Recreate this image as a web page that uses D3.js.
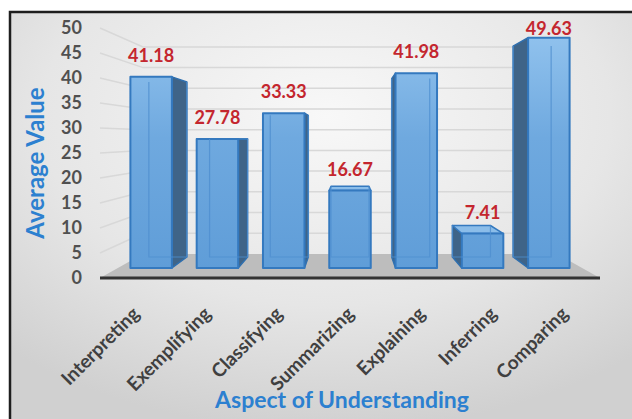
<!DOCTYPE html>
<html>
<head>
<meta charset="utf-8">
<script src="https://cdn.jsdelivr.net/npm/d3@7"></script>
<style>
  html, body { margin: 0; padding: 0; background: #fff; }
  svg { display: block; }
  text { font-family: Lato, "Open Sans", sans-serif; font-weight: bold; }
</style>
</head>
<body>
<svg id="chart" width="632" height="419"></svg>
<script>
// chart data
const categories = ["Interpreting", "Exemplifying", "Classifying", "Summarizing", "Explaining", "Inferring", "Comparing"];
const values = [41.18, 27.78, 33.33, 16.67, 41.98, 7.41, 49.63];
const yTicks = [0, 5, 10, 15, 20, 25, 30, 35, 40, 45, 50];
const yTitle = "Average Value";
const xTitle = "Aspect of Understanding";

const svg = d3.select("#chart");
const W = 632, H = 419;

// simple perspective: vanishing x, horizon y, eye height (in value units)
const xc = 350, yh = 138, ve = 28, sRef = 4.64;
const sFloorFront = 5, sBarFront = 4.64, sBarBack = 4.25, sWall = 4.14;

// category scale lives in the bar-front plane
const x = d3.scaleBand()
    .domain(categories)
    .range([118, 582])
    .paddingInner(0.374)
    .paddingOuter(0.187);

// value scale for any depth plane
function yAt(s) {
    return d3.scaleLinear().domain([0, 50]).range([yh + s * ve, yh - s * (50 - ve)]);
}
function proj(X, v, s) {
    return [xc + (X - xc) * s / sRef, yAt(s)(v)];
}
const line = d3.line();

// background + frame
const defs = svg.append("defs");
const bg = defs.append("radialGradient").attr("id", "bg")
    .attr("cx", 0.5).attr("cy", 0.25).attr("r", 0.75);
bg.append("stop").attr("offset", "0%").attr("stop-color", "#f8f8f8");
bg.append("stop").attr("offset", "60%").attr("stop-color", "#e6e6e6");
bg.append("stop").attr("offset", "100%").attr("stop-color", "#d0d0d0");

const front = defs.append("linearGradient").attr("id", "front")
    .attr("gradientUnits", "userSpaceOnUse")
    .attr("x1", 0).attr("y1", 30).attr("x2", 0).attr("y2", 270);
front.append("stop").attr("offset", "0%").attr("stop-color", "#92c3ee");
front.append("stop").attr("offset", "45%").attr("stop-color", "#6fa9df");
front.append("stop").attr("offset", "100%").attr("stop-color", "#5f9dd8");

svg.append("rect").attr("x", 10).attr("y", 12).attr("width", W).attr("height", H)
    .attr("fill", "url(#bg)").attr("stroke", "#1e1e1e").attr("stroke-width", 2.5);

// gridlines: left wall then back wall
const grid = svg.append("g").attr("fill", "none").attr("stroke", "#d8d8d8").attr("stroke-width", 1.5);
yTicks.filter(v => v > 0).forEach(v => {
    grid.append("path").attr("d", line([
        proj(118, v, sFloorFront),
        proj(118, v, sWall),
        proj(582, v, sWall)
    ]));
});

// floor
svg.append("path")
    .attr("d", line([proj(118, 0, sFloorFront), proj(582, 0, sFloorFront),
                     proj(582, 0, sWall), proj(118, 0, sWall)]) + "Z")
    .attr("fill", "#bdbdbd");
svg.append("path")
    .attr("d", line([proj(118, 0, sFloorFront), proj(582, 0, sFloorFront)]))
    .attr("stroke", "#333").attr("stroke-width", 3);

// bars
const bars = svg.append("g");
categories.forEach((c, i) => {
    const v = values[i];
    const X0 = x(c), X1 = x(c) + x.bandwidth();
    const mid = (X0 + X1) / 2;
    const g = bars.append("g");

    // side face
    if (Math.abs(mid - xc) > 2) {
        const Xs = mid < xc ? X1 : X0;
        g.append("path")
            .attr("d", line([proj(Xs, 0, sBarFront), proj(Xs, v, sBarFront),
                             proj(Xs, v, sBarBack), proj(Xs, 0, sBarBack)]) + "Z")
            .attr("fill", "#3f6488").attr("stroke", "#2f6fae").attr("stroke-width", 1.5)
            .attr("stroke-linejoin", "round");
    }
    // top face (only when below eye height)
    if (v < ve) {
        g.append("path")
            .attr("d", line([proj(X0, v, sBarFront), proj(X1, v, sBarFront),
                             proj(X1, v, sBarBack), proj(X0, v, sBarBack)]) + "Z")
            .attr("fill", "#8bbde9").attr("stroke", "#3479bf").attr("stroke-width", 1.5)
            .attr("stroke-linejoin", "round");
    }
    // front face
    g.append("path")
        .attr("d", line([proj(X0, 0, sBarFront), proj(X1, 0, sBarFront),
                         proj(X1, v, sBarFront), proj(X0, v, sBarFront)]) + "Z")
        .attr("fill", "url(#front)").attr("stroke", "#3479bf").attr("stroke-width", 2)
        .attr("stroke-linejoin", "round");
    // hidden back edges seen through the glass
    g.append("path")
        .attr("d", line([proj(X0, v, sBarBack), proj(X0, 0, sBarBack), proj(X1, 0, sBarBack), proj(X1, v, sBarBack)]))
        .attr("fill", "none").attr("stroke", "#4f8fd0").attr("stroke-width", 1.2).attr("opacity", 0.8);

    // data label
    const top = proj(mid, v, sBarFront);
    g.append("text")
        .attr("x", top[0]).attr("y", Math.max(top[1] - 15, 35))
        .attr("text-anchor", "middle")
        .attr("font-size", 18)
        .attr("fill", "#c4262e")
        .text(v.toFixed(2));
});

// y axis labels (front plane)
const yAxis = svg.append("g")
    .attr("transform", "translate(82,0)")
    .call(d3.axisLeft(yAt(sFloorFront)).tickValues(yTicks).tickSize(0).tickPadding(0));
yAxis.select(".domain").remove();
yAxis.selectAll("text")
    .attr("font-family", "Lato, sans-serif").attr("font-weight", "bold")
    .attr("font-size", 18).attr("fill", "#505050");

// x axis labels, rotated
categories.forEach(c => {
    const p = proj(x(c) + x.bandwidth() / 2, 0, sFloorFront);
    svg.append("text")
        .attr("transform", `translate(${p[0] + 5},${315}) rotate(-45)`)
        .attr("text-anchor", "end")
        .attr("font-size", 19)
        .attr("fill", "#404040")
        .text(c);
});

// titles
svg.append("text")
    .attr("transform", "translate(44,163) rotate(-90)")
    .attr("text-anchor", "middle")
    .attr("font-size", 24)
    .attr("fill", "#2c80d0")
    .text(yTitle);

svg.append("text")
    .attr("x", 342).attr("y", 408)
    .attr("text-anchor", "middle")
    .attr("font-size", 23)
    .attr("fill", "#2c80d0")
    .text(xTitle);
</script>
</body>
</html>
